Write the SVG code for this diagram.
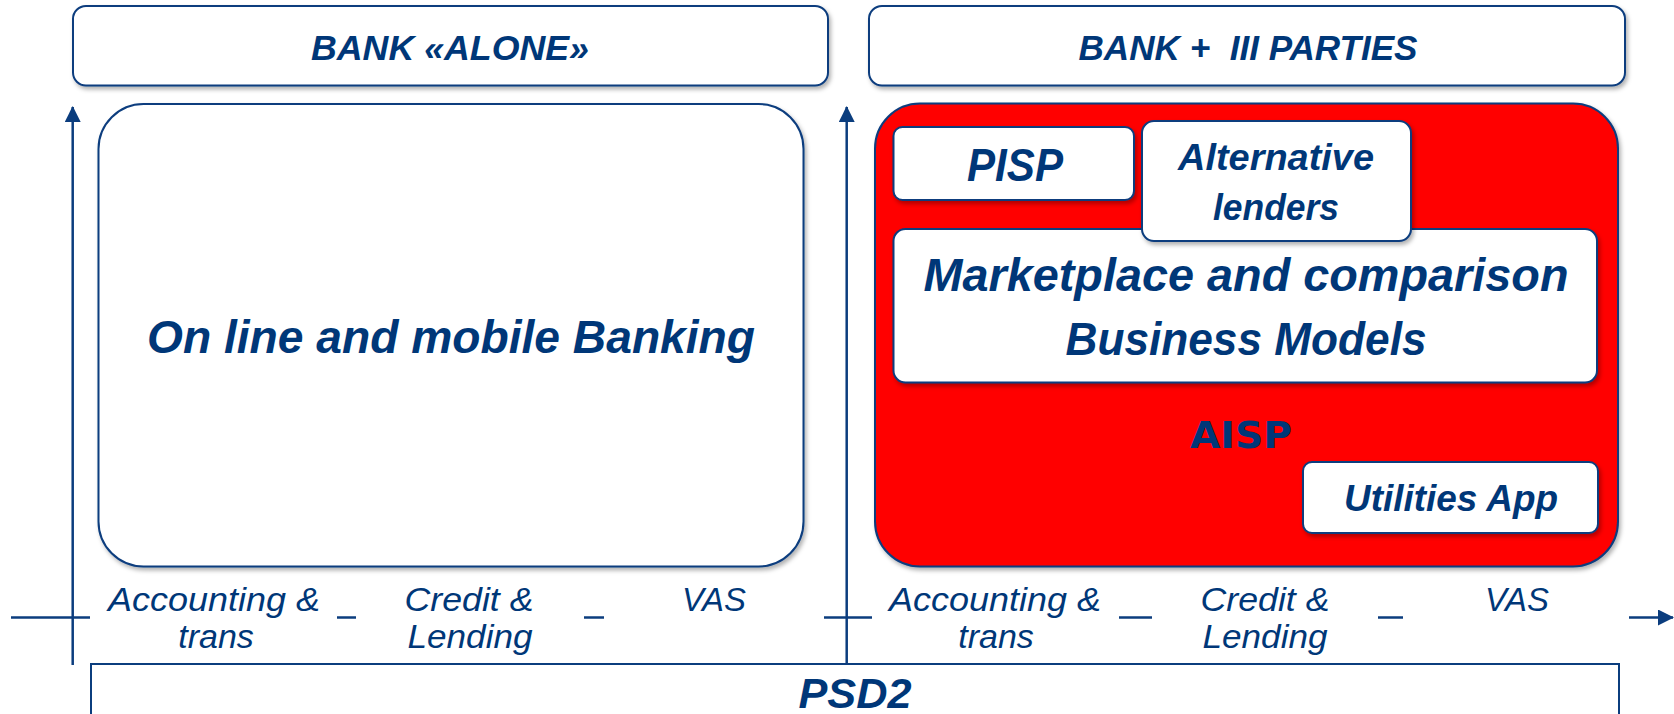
<svg xmlns="http://www.w3.org/2000/svg" width="1674" height="714" viewBox="0 0 1674 714">
<style>
.box{fill:#fff;stroke:#0B3D7E;stroke-width:2}
.red{fill:#FF0000;stroke:#0B3D7E;stroke-width:2}
.ax{stroke:#0B3D7E;stroke-width:2.5;fill:none}
.t{font-family:"Liberation Sans",Arial,sans-serif;font-style:italic;font-weight:bold;fill:#003778;text-anchor:middle}
.lab{font-family:"Liberation Sans",Arial,sans-serif;font-style:italic;font-weight:normal;fill:#003778;text-anchor:middle;font-size:34px}
.aisp{font-family:"DejaVu Sans",Verdana,sans-serif;font-weight:bold;fill:#003778;text-anchor:middle;font-size:38px}
</style>
<defs>
<filter id="sh" x="-5%" y="-5%" width="110%" height="115%">
<feDropShadow dx="2" dy="3" stdDeviation="2" flood-color="#000" flood-opacity="0.3"/>
</filter>
<marker id="ah" viewBox="0 0 16 16" refX="15" refY="8" markerWidth="16" markerHeight="16" markerUnits="userSpaceOnUse" orient="auto">
<path d="M0,0 L16,8 L0,16 Z" fill="#0B3D7E"/>
</marker>
</defs>

<g id="connectors">
<line class="ax" x1="72.7" y1="665" x2="72.7" y2="107" marker-end="url(#ah)"/>
<line class="ax" x1="846.7" y1="664" x2="846.7" y2="107" marker-end="url(#ah)"/>
<line class="ax" x1="11" y1="617.5" x2="90" y2="617.5"/>
<line class="ax" x1="337" y1="617.5" x2="356" y2="617.5"/>
<line class="ax" x1="584" y1="617.5" x2="604" y2="617.5"/>
<line class="ax" x1="824" y1="617.5" x2="872" y2="617.5"/>
<line class="ax" x1="1119" y1="617.5" x2="1152" y2="617.5"/>
<line class="ax" x1="1378" y1="617.5" x2="1403" y2="617.5"/>
<line class="ax" x1="1629" y1="617.5" x2="1673" y2="617.5" marker-end="url(#ah)"/>
</g>

<g id="header-left">
<rect class="box" x="73" y="6" width="755" height="79.5" rx="13" filter="url(#sh)"/>
<text class="t" x="450" y="60" font-size="35.5" textLength="278" lengthAdjust="spacingAndGlyphs">BANK «ALONE»</text>
</g>

<g id="header-right">
<rect class="box" x="869" y="6" width="756" height="79.5" rx="13" filter="url(#sh)"/>
<text class="t" x="1248" y="60" font-size="35.5" style="white-space:pre" textLength="339" lengthAdjust="spacingAndGlyphs">BANK +  III PARTIES</text>
</g>

<g id="bank-alone">
<rect class="box" x="98.5" y="104" width="705" height="462.5" rx="45" filter="url(#sh)"/>
<text class="t" x="451" y="352.5" font-size="46.5" textLength="608" lengthAdjust="spacingAndGlyphs">On line and mobile Banking</text>
</g>

<g id="bank-third-parties">
<rect class="red" x="875" y="103.5" width="743" height="463" rx="45" filter="url(#sh)"/>
</g>

<g id="marketplace">
<rect class="box" x="893.5" y="229" width="703.5" height="153.5" rx="12" filter="url(#sh)"/>
<text class="t" x="1246" y="290.5" font-size="46" textLength="645" lengthAdjust="spacingAndGlyphs">Marketplace and comparison</text>
<text class="t" x="1246" y="355" font-size="46" textLength="361" lengthAdjust="spacingAndGlyphs">Business Models</text>
</g>

<g id="pisp">
<rect class="box" x="893.5" y="127" width="240.5" height="73" rx="9" filter="url(#sh)"/>
<text class="t" x="1015" y="180.5" font-size="46" textLength="96" lengthAdjust="spacingAndGlyphs">PISP</text>
</g>

<g id="alternative-lenders">
<rect class="box" x="1142" y="121" width="269" height="120" rx="12" filter="url(#sh)"/>
<text class="t" x="1276" y="170" font-size="36.5" textLength="196" lengthAdjust="spacingAndGlyphs">Alternative</text>
<text class="t" x="1276" y="220" font-size="36.5" textLength="126" lengthAdjust="spacingAndGlyphs">lenders</text>
</g>

<g id="aisp">
<text class="aisp" x="1241" y="448" textLength="102" lengthAdjust="spacingAndGlyphs">AISP</text>
</g>

<g id="utilities-app">
<rect class="box" x="1303" y="462" width="295" height="71" rx="9" filter="url(#sh)"/>
<text class="t" x="1451" y="511" font-size="36" textLength="214" lengthAdjust="spacingAndGlyphs">Utilities App</text>
</g>

<g id="axis-labels">
<text class="lab" x="214" y="610.5" textLength="212" lengthAdjust="spacingAndGlyphs">Accounting &amp;</text>
<text class="lab" x="216" y="648">trans</text>
<text class="lab" x="469" y="610.5" textLength="129" lengthAdjust="spacingAndGlyphs">Credit &amp;</text>
<text class="lab" x="470" y="648" textLength="125" lengthAdjust="spacingAndGlyphs">Lending</text>
<text class="lab" x="714" y="610.5" textLength="64" lengthAdjust="spacingAndGlyphs">VAS</text>
<text class="lab" x="995" y="610.5" textLength="212" lengthAdjust="spacingAndGlyphs">Accounting &amp;</text>
<text class="lab" x="996" y="648">trans</text>
<text class="lab" x="1265" y="610.5" textLength="129" lengthAdjust="spacingAndGlyphs">Credit &amp;</text>
<text class="lab" x="1265" y="648" textLength="125" lengthAdjust="spacingAndGlyphs">Lending</text>
<text class="lab" x="1517" y="610.5" textLength="64" lengthAdjust="spacingAndGlyphs">VAS</text>
</g>

<g id="psd2">
<rect class="box" x="91" y="664" width="1528" height="70"/>
<text class="t" x="855" y="707.5" font-size="43" textLength="113" lengthAdjust="spacingAndGlyphs">PSD2</text>
</g>
</svg>
